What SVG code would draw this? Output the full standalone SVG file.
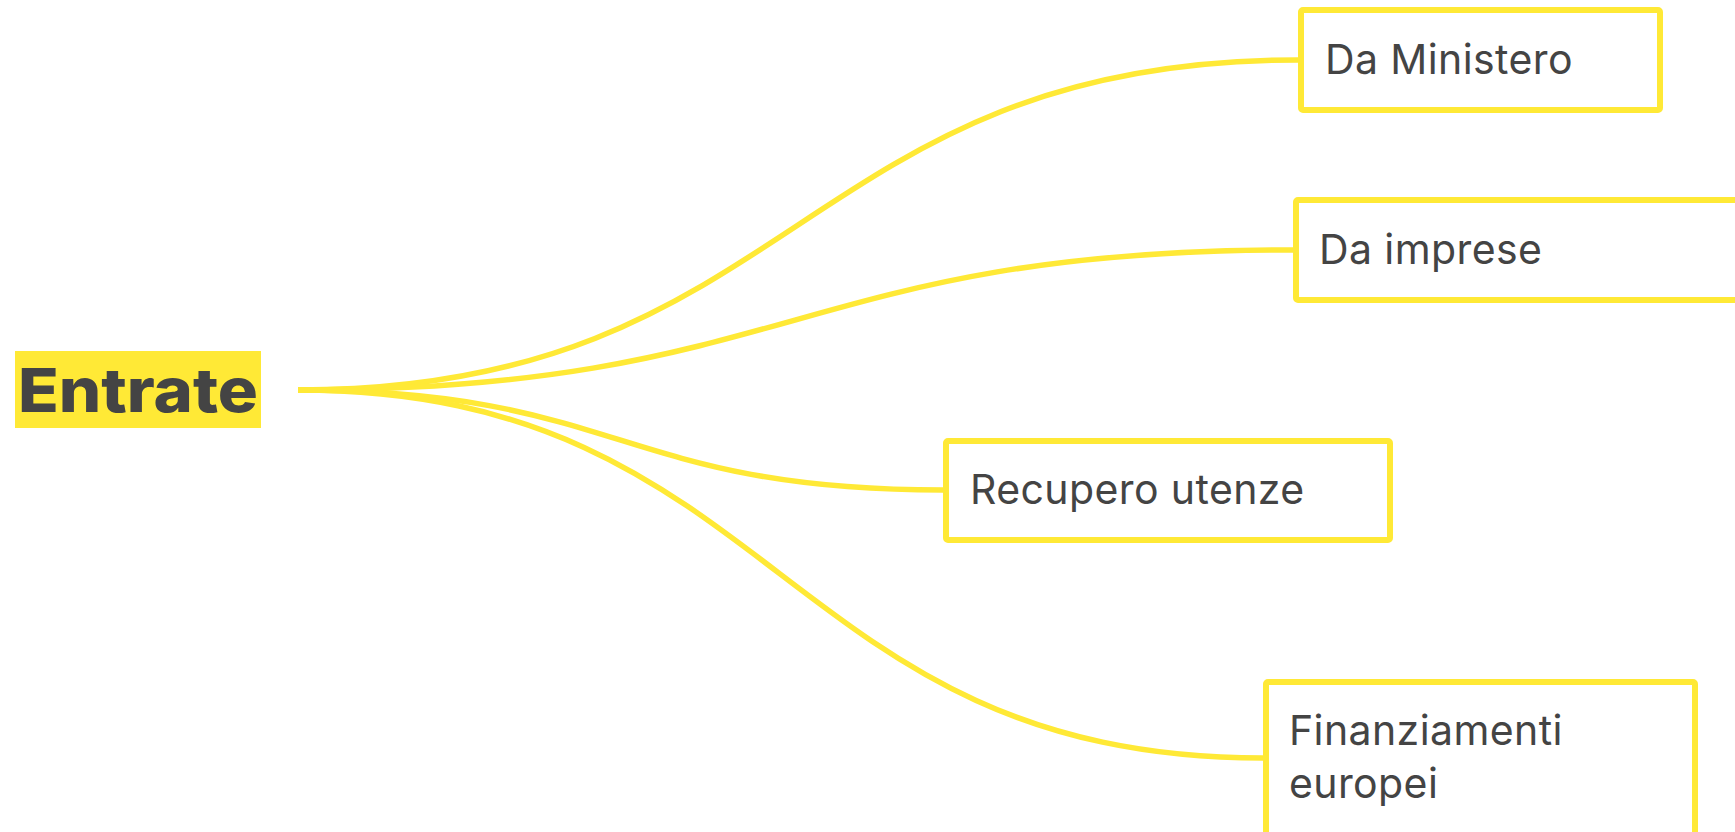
<svg xmlns="http://www.w3.org/2000/svg" width="1735" height="832" viewBox="0 0 1735 832">
<style>
.conn{fill:none;stroke:#FFE936;stroke-width:5.5;stroke-linecap:butt}
.box{fill:#FFFFFF;stroke:#FFE936;stroke-width:6;stroke-linejoin:round}
.lbl{font-family:Inter,"Noto Sans","Liberation Sans",sans-serif;font-size:41px;letter-spacing:0.4px;fill:#444444}
.root{font-family:Inter,"Noto Sans","Liberation Sans",sans-serif;font-size:61px;font-weight:800;fill:#444444}
</style>
<rect width="1735" height="832" fill="#FFFFFF"/>
<g id="connectors">
<path class="conn" d="M298,390 C798,390 798,60 1298,60"/>
<path class="conn" d="M298,390 C795,390 795,250 1293,250"/>
<path class="conn" d="M298,390 C620,390 620,490 943,490"/>
<path class="conn" d="M298,390 C780,390 780,758 1263,758"/>
</g>
<g id="node-entrate">
<rect x="15" y="351" width="246" height="77" fill="#FFE936"/>
<text class="root" x="18" y="412" textLength="240" lengthAdjust="spacingAndGlyphs">Entrate</text>
</g>
<g id="node-da-ministero">
<rect class="box" x="1301" y="10" width="359" height="100" rx="2"/>
<text class="lbl" x="1325" y="74">Da Ministero</text>
</g>
<g id="node-da-imprese">
<rect class="box" x="1296" y="200" width="460" height="100" rx="2"/>
<text class="lbl" x="1319" y="264">Da imprese</text>
</g>
<g id="node-recupero-utenze">
<rect class="box" x="946" y="441" width="444" height="99" rx="2"/>
<text class="lbl" x="970" y="504">Recupero utenze</text>
</g>
<g id="node-finanziamenti-europei">
<rect class="box" x="1266" y="682" width="429" height="160" rx="2"/>
<text class="lbl" x="1289" y="745">Finanziamenti</text>
<text class="lbl" x="1289" y="798">europei</text>
</g>
</svg>
